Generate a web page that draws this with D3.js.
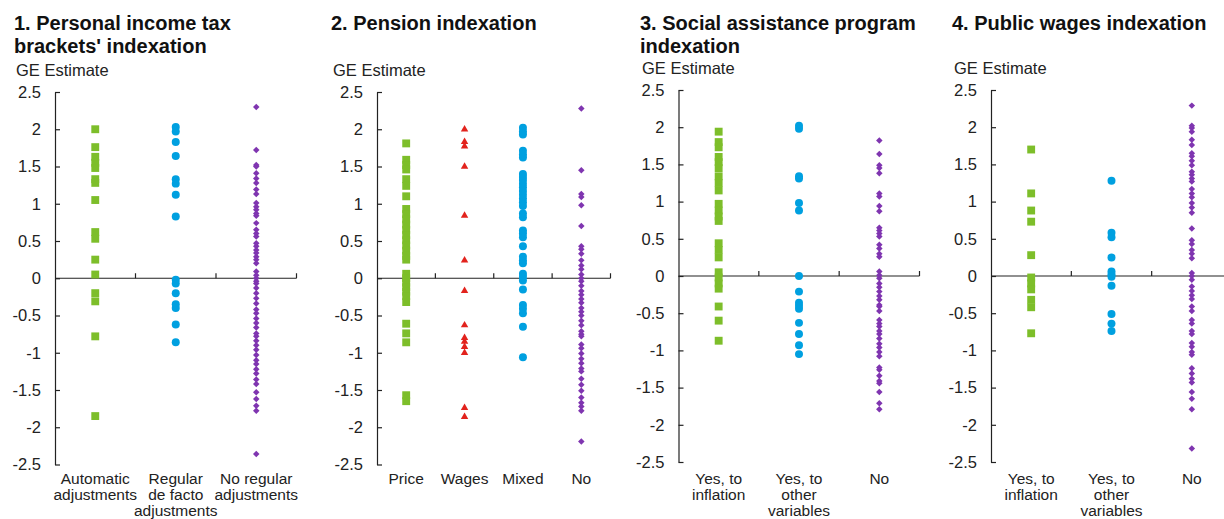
<!DOCTYPE html>
<html>
<head>
<meta charset="utf-8">
<script src="https://cdn.jsdelivr.net/npm/d3@7"></script>
<style>
  html, body { margin: 0; padding: 0; background: #fff; }
  svg { display: block; font-family: "Liberation Sans", Arial, sans-serif; }
</style>
</head>
<body>
<svg id="chart" width="1224" height="519"></svg>
<script>
// GE estimates by indexation regime, one array per category
const p1Automatic = [2.0, 1.76, 1.63, 1.55, 1.48, 1.33, 1.28, 1.05, 0.62, 0.53, 0.25, 0.05, -0.2, -0.31, -0.78, -1.85];
const p1DeFacto = [2.03, 1.97, 1.83, 1.64, 1.33, 1.27, 1.12, 0.83, -0.02, -0.07, -0.2, -0.35, -0.4, -0.62, -0.86];
const p1NoRegular = [2.3, 1.72, 1.52, 1.5, 1.41, 1.34, 1.28, 1.19, 1.13, 1.01, 0.96, 0.92, 0.87, 0.84, 0.74, 0.65, 0.6, 0.56, 0.47, 0.43, 0.38, 0.34, 0.29, 0.25, 0.2, 0.09, 0.04, 0.0, -0.04, -0.07, -0.13, -0.2, -0.27, -0.34, -0.42, -0.47, -0.54, -0.6, -0.66, -0.74, -0.78, -0.84, -0.9, -0.96, -1.03, -1.1, -1.15, -1.22, -1.28, -1.36, -1.42, -1.53, -1.62, -1.71, -1.78, -2.36];

const p2Price = [1.81, 1.59, 1.52, 1.46, 1.33, 1.24, 1.1, 0.93, 0.86, 0.79, 0.72, 0.65, 0.58, 0.51, 0.44, 0.37, 0.3, 0.25, 0.06, 0.0, -0.06, -0.12, -0.18, -0.24, -0.32, -0.61, -0.74, -0.86, -1.57, -1.65];
const p2Wages = [2.0, 1.83, 1.77, 1.5, 0.84, 0.24, -0.17, -0.63, -0.8, -0.85, -0.92, -1.0, -1.74, -1.86];
const p2Mixed = [2.02, 1.97, 1.93, 1.71, 1.66, 1.62, 1.4, 1.36, 1.32, 1.27, 1.22, 1.17, 1.12, 1.07, 1.02, 0.97, 0.87, 0.82, 0.64, 0.6, 0.55, 0.43, 0.29, 0.24, 0.2, 0.06, 0.02, -0.03, -0.15, -0.36, -0.41, -0.47, -0.65, -1.06];
const p2No = [2.28, 1.45, 1.13, 1.09, 0.98, 0.7, 0.43, 0.39, 0.33, 0.24, 0.17, 0.12, 0.05, 0.0, -0.04, -0.1, -0.17, -0.22, -0.28, -0.33, -0.4, -0.45, -0.5, -0.57, -0.63, -0.71, -0.75, -0.78, -0.89, -0.94, -1.01, -1.08, -1.14, -1.21, -1.25, -1.35, -1.43, -1.51, -1.6, -1.67, -1.72, -1.78, -2.19];

const p3Inflation = [1.94, 1.8, 1.73, 1.6, 1.53, 1.45, 1.34, 1.25, 1.15, 0.97, 0.88, 0.8, 0.74, 0.44, 0.35, 0.25, 0.05, -0.02, -0.1, -0.17, -0.41, -0.6, -0.87];
const p3Other = [2.02, 1.98, 1.34, 1.31, 0.98, 0.88, 0.0, -0.21, -0.36, -0.4, -0.44, -0.63, -0.78, -0.93, -1.05];
const p3No = [1.82, 1.64, 1.49, 1.45, 1.38, 1.11, 1.07, 0.94, 0.87, 0.65, 0.61, 0.57, 0.53, 0.42, 0.37, 0.3, 0.26, 0.06, 0.01, -0.03, -0.1, -0.15, -0.21, -0.27, -0.32, -0.39, -0.41, -0.47, -0.59, -0.64, -0.68, -0.74, -0.78, -0.84, -0.91, -0.96, -1.02, -1.08, -1.23, -1.26, -1.34, -1.41, -1.44, -1.56, -1.71, -1.79];

const p4Inflation = [1.7, 1.11, 0.88, 0.73, 0.28, -0.02, -0.1, -0.18, -0.32, -0.42, -0.77];
const p4Other = [1.28, 0.58, 0.52, 0.25, 0.06, 0.02, -0.01, -0.13, -0.51, -0.64, -0.74];
const p4No = [2.29, 2.02, 1.99, 1.94, 1.83, 1.76, 1.65, 1.61, 1.55, 1.49, 1.4, 1.36, 1.31, 1.27, 1.17, 1.11, 1.06, 0.98, 0.92, 0.85, 0.64, 0.48, 0.43, 0.35, 0.3, 0.24, 0.04, 0.0, -0.05, -0.14, -0.2, -0.26, -0.31, -0.41, -0.47, -0.59, -0.64, -0.74, -0.78, -0.9, -0.95, -1.02, -1.06, -1.24, -1.31, -1.38, -1.43, -1.56, -1.65, -1.79, -2.32];

// Category labels (lines separated by "|")
const p1Categories = ["Automatic|adjustments", "Regular|de facto|adjustments", "No regular|adjustments"];
const p2Categories = ["Price", "Wages", "Mixed", "No"];
const p3Categories = ["Yes, to|inflation", "Yes, to|other|variables", "No"];
const p4Categories = ["Yes, to|inflation", "Yes, to|other|variables", "No"];

const panelTitles = [
  ["1. Personal income tax", "brackets' indexation"],
  ["2. Pension indexation"],
  ["3. Social assistance program", "indexation"],
  ["4. Public wages indexation"]
];
const yTicks = [2.5, 2, 1.5, 1, 0.5, 0, -0.5, -1, -1.5, -2, -2.5];
const yAxisTitle = "GE Estimate";

const COLORS = { green: "#7dbe2a", blue: "#00a0e0", purple: "#7f35b0", red: "#e2231d" };
const MARKS = {
  square: { type: d3.symbolSquare, size: 62, rotate: 0 },
  circle: { type: d3.symbolCircle, size: 50, rotate: 0 },
  triangle: { type: d3.symbolTriangle, size: 24, rotate: 0 },
  diamond: { type: d3.symbolSquare, size: 21, rotate: 45 }
};

const panels = [
  { x0: 55, x1: 296.5, top: 92, bottom: 464.5, titleX: 14, categories: p1Categories,
    series: [
      { values: p1Automatic, color: COLORS.green, mark: "square" },
      { values: p1DeFacto, color: COLORS.blue, mark: "circle" },
      { values: p1NoRegular, color: COLORS.purple, mark: "diamond" }] },
  { x0: 377, x1: 610.5, top: 92, bottom: 464.5, titleX: 331, categories: p2Categories,
    series: [
      { values: p2Price, color: COLORS.green, mark: "square" },
      { values: p2Wages, color: COLORS.red, mark: "triangle" },
      { values: p2Mixed, color: COLORS.blue, mark: "circle" },
      { values: p2No, color: COLORS.purple, mark: "diamond" }] },
  { x0: 678.5, x1: 919.5, top: 90, bottom: 462, titleX: 640, categories: p3Categories,
    series: [
      { values: p3Inflation, color: COLORS.green, mark: "square" },
      { values: p3Other, color: COLORS.blue, mark: "circle" },
      { values: p3No, color: COLORS.purple, mark: "diamond" }] },
  { x0: 991, x1: 1232, top: 90, bottom: 462, titleX: 952, categories: p4Categories,
    series: [
      { values: p4Inflation, color: COLORS.green, mark: "square" },
      { values: p4Other, color: COLORS.blue, mark: "circle" },
      { values: p4No, color: COLORS.purple, mark: "diamond" }] }
];

const svg = d3.select("#chart");
const axisColor = "#222";
const textColor = "#222";

panels.forEach((p, i) => {
  const g = svg.append("g");

  // Title
  const title = g.append("text")
    .attr("x", p.titleX).attr("y", 30)
    .attr("font-size", 20).attr("font-weight", "bold").attr("fill", "#111");
  panelTitles[i].forEach((line, k) => {
    title.append("tspan").attr("x", p.titleX).attr("dy", k === 0 ? 0 : 22.5).text(line);
  });

  // Y axis title
  g.append("text")
    .attr("x", p.titleX + 2).attr("y", p.top - 16)
    .attr("font-size", 16.5).attr("fill", textColor)
    .text(yAxisTitle);

  const y = d3.scaleLinear().domain([-2.5, 2.5]).range([p.bottom, p.top]);
  const x = d3.scaleBand().domain(p.categories).range([p.x0, p.x1]).padding(0);

  // Y axis: ticks point into the plot
  const yAxis = d3.axisLeft(y).tickValues(yTicks).tickSizeInner(-5).tickSizeOuter(0)
    .tickPadding(14).tickFormat(d3.format("~g"));
  const ya = g.append("g").attr("transform", `translate(${p.x0},0)`).call(yAxis);
  ya.select(".domain").attr("stroke", axisColor).attr("stroke-width", 1.2);
  ya.selectAll(".tick line").attr("stroke", axisColor).attr("stroke-width", 1.2);
  ya.selectAll(".tick text").attr("font-size", 16.5).attr("fill", textColor)
    .attr("font-family", "Liberation Sans, Arial, sans-serif")
    .text(d => d3.format("~g")(d).replace("−", "-"));

  // Zero line with category separators pointing upward
  const y0 = y(0);
  g.append("line")
    .attr("x1", p.x0).attr("x2", p.x1).attr("y1", y0).attr("y2", y0)
    .attr("stroke", axisColor).attr("stroke-width", 1.2);
  g.selectAll(".sep").data(p.categories).enter().append("line")
    .attr("x1", d => x(d) + x.bandwidth()).attr("x2", d => x(d) + x.bandwidth())
    .attr("y1", y0).attr("y2", y0 - 5)
    .attr("stroke", axisColor).attr("stroke-width", 1.2);

  // Category labels
  p.categories.forEach(c => {
    const t = g.append("text")
      .attr("text-anchor", "middle").attr("font-size", 15.5).attr("fill", textColor)
      .attr("y", 484);
    c.split("|").forEach((line, k) => {
      t.append("tspan").attr("x", x(c) + x.bandwidth() / 2).attr("dy", k === 0 ? 0 : 16).text(line);
    });
  });

  // Points
  p.series.forEach((s, si) => {
    const cat = p.categories[si];
    const m = MARKS[s.mark];
    const sym = d3.symbol().type(m.type).size(m.size);
    g.append("g").selectAll("path").data(s.values).enter().append("path")
      .attr("d", sym)
      .attr("transform", d => `translate(${x(cat) + x.bandwidth() / 2},${y(d)}) rotate(${m.rotate})`)
      .attr("fill", s.color);
  });
});
</script>
</body>
</html>
